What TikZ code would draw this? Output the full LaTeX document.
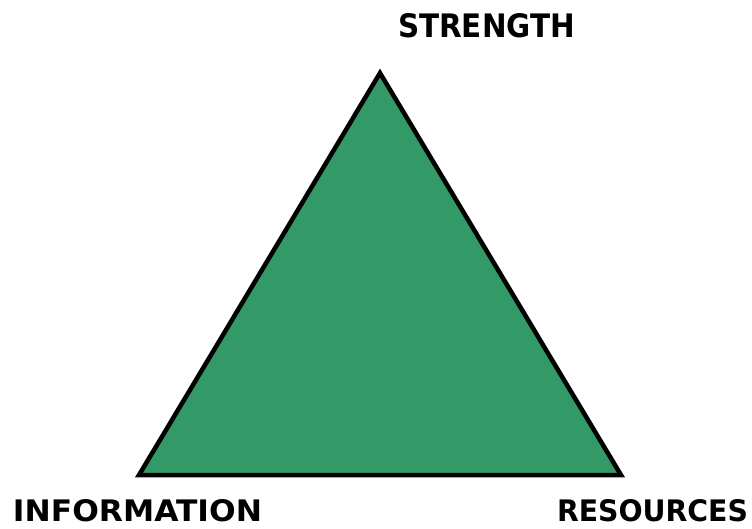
\documentclass[tikz,border=0pt]{standalone}
\usepackage{fontspec}
\setmainfont{DejaVu Sans}
\definecolor{trigreen}{RGB}{51,153,102}
\begin{document}
\begin{tikzpicture}[x=1pt,y=-1pt,
  lbl/.style={font=\bfseries\fontsize{30}{36}\selectfont, inner sep=0pt, anchor=center}]
\useasboundingbox (0,0) rectangle (752,529);
\coordinate (top) at (380,73);
\coordinate (bl) at (139,475);
\coordinate (br) at (621,475);
\draw[line width=4.5pt, line join=miter, fill=trigreen] (top) -- (bl) -- (br) -- cycle;
\node[lbl] (s) at (486.5,25.5) {\resizebox{177pt}{24pt}{STRENGTH}};
\node[lbl] (i) at (137.5,510.5) {\resizebox{249pt}{22pt}{INFORMATION}};
\node[lbl] (r) at (652.5,510.5) {\resizebox{191pt}{22pt}{RESOURCES}};
\end{tikzpicture}
\end{document}
